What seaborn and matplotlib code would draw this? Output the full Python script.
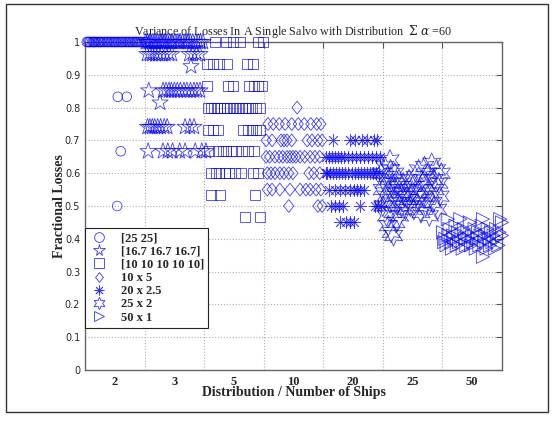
import numpy as np
import pandas as pd
import matplotlib
matplotlib.use("Agg")
import matplotlib.pyplot as plt
from matplotlib.lines import Line2D
from matplotlib.patches import Rectangle
from matplotlib.path import Path
import seaborn as sns

# ---- data -------------------------------------------------------------
group_labels = ["2", "3", "5", "10", "20", "25", "50"]
series_names = ["[25 25]", "[16.7 16.7 16.7]", "[10 10 10 10 10]",
                "10 x 5", "20 x 2.5", "25 x 2", "50 x 1"]

# rows of equal fractional loss: {loss: [x positions]}
rows_25_25 = {
    1.0: [0.03, 0.05, 0.07, 0.09, 0.12, 0.14, 0.15, 0.17, 0.19, 0.22, 0.24, 0.26,
          0.28, 0.31, 0.33, 0.36, 0.38, 0.40, 0.43, 0.45, 0.48, 0.50, 0.52, 0.55,
          0.57, 0.60, 0.62, 0.64, 0.67, 0.69, 0.72, 0.74, 0.76, 0.79, 0.81, 0.84,
          0.86, 0.88, 0.91, 0.93, 0.96, 1.00, 1.03],
    0.833: [0.55, 0.70],
    0.667: [0.60],
    0.5: [0.54],
}
rows_16_7 = {
    1.0: [1.02, 1.05, 1.08, 1.10, 1.13, 1.16, 1.19, 1.22, 1.26, 1.28, 1.30, 1.33,
          1.35, 1.38, 1.42, 1.45, 1.47, 1.51, 1.55, 1.58, 1.60, 1.64, 1.68, 1.71,
          1.73, 1.77, 1.81, 1.86, 1.90, 1.94, 1.98],
    0.963: [1.04, 1.09, 1.13, 1.18, 1.23, 1.29, 1.35, 1.41, 1.46, 1.75, 1.81, 1.87, 1.93],
    0.926: [1.78],
    0.852: [1.07, 1.31, 1.36, 1.41, 1.45, 1.50, 1.55, 1.60, 1.66, 1.71, 1.77, 1.83, 1.88, 1.93],
    0.815: [1.26],
    0.741: [1.05, 1.09, 1.13, 1.17, 1.22, 1.27, 1.33, 1.38, 1.68, 1.76, 1.83],
    0.667: [1.06, 1.31, 1.39, 1.47, 1.59, 1.68, 1.85, 1.96, 2.03],
}
rows_10x5 = {
    1.0: [2.18, 2.37, 2.48, 2.60, 2.90, 2.99],
    0.933: [2.05, 2.15, 2.25, 2.38, 2.72, 2.82],
    0.867: [2.05, 2.40, 2.48, 2.75, 2.84, 2.90, 2.97],
    0.8: [2.07, 2.12, 2.17, 2.22, 2.27, 2.33, 2.38, 2.43, 2.48, 2.53, 2.58, 2.63,
          2.68, 2.73, 2.80, 2.87, 2.94],
    0.733: [2.07, 2.15, 2.23, 2.65, 2.74, 2.80, 2.87, 2.94],
    0.667: [2.08, 2.23, 2.32, 2.37, 2.45, 2.53, 2.64, 2.74, 2.84],
    0.6: [2.12, 2.20, 2.25, 2.35, 2.42, 2.52, 2.62, 2.82, 2.90],
    0.533: [2.12, 2.27, 2.85],
    0.467: [2.69, 2.94],
}
rows_10_5 = {
    0.8: [3.56],
    0.75: [3.07, 3.16, 3.26, 3.36, 3.47, 3.58, 3.68, 3.79, 3.89, 3.96],
    0.7: [3.04, 3.14, 3.29, 3.34, 3.39, 3.47, 3.73, 3.81, 3.91, 3.98],
    0.65: [3.04, 3.10, 3.19, 3.26, 3.32, 3.39, 3.44, 3.49, 3.54, 3.61, 3.69, 3.78, 3.86, 3.94],
    0.6: [3.06, 3.12, 3.19, 3.27, 3.34, 3.42, 3.49, 3.76, 3.84, 3.94],
    0.55: [3.06, 3.14, 3.27, 3.44, 3.61, 3.71, 3.78, 3.88, 3.96],
    0.5: [3.42, 3.91, 3.98],
}
rows_20_25 = {
    0.7: [4.16, 4.45, 4.53, 4.65, 4.73, 4.85, 4.90],
    0.65: [4.04, 4.09, 4.14, 4.19, 4.24, 4.29, 4.34, 4.41, 4.48, 4.55, 4.61, 4.68,
           4.75, 4.81, 4.88, 4.95],
    0.6: [4.04, 4.07, 4.12, 4.17, 4.22, 4.27, 4.32, 4.37, 4.42, 4.48, 4.53, 4.58,
          4.63, 4.68, 4.73, 4.78, 4.83, 4.88, 4.93],
    0.55: [4.10, 4.20, 4.28, 4.36, 4.45, 4.52, 4.57, 4.62, 4.69],
    0.5: [4.13, 4.20, 4.26, 4.33, 4.62, 4.87, 4.92, 4.97],
    0.45: [4.28, 4.38, 4.45, 4.52],
}
x_25_2 = [4.97, 4.99, 5.00, 5.02, 5.03, 5.05, 5.06, 5.08, 5.09, 5.10, 5.12, 5.12, 5.13,
          5.14, 5.16, 5.17, 5.18, 5.19, 5.20, 5.22, 5.23, 5.25, 5.27, 5.28, 5.30, 5.32,
          5.34, 5.36, 5.38, 5.40, 5.42, 5.44, 5.46, 5.48, 5.50, 5.52, 5.54, 5.56, 5.58,
          5.60, 5.62, 5.64, 5.66, 5.68, 5.70, 5.72, 5.74, 5.76, 5.78, 5.80, 5.82, 5.84,
          5.86, 5.88, 5.90, 5.92, 5.94, 5.96, 5.98]
y_25_2 = [0.60, 0.55, 0.50, 0.57, 0.62, 0.53, 0.47, 0.59, 0.44, 0.55, 0.51, 0.64, 0.61,
          0.42, 0.57, 0.48, 0.41, 0.53, 0.60, 0.45, 0.56, 0.51, 0.58, 0.47, 0.54, 0.50,
          0.57, 0.53, 0.49, 0.55, 0.52, 0.58, 0.50, 0.54, 0.56, 0.49, 0.59, 0.53, 0.51,
          0.61, 0.55, 0.48, 0.58, 0.53, 0.62, 0.50, 0.56, 0.60, 0.47, 0.54, 0.63, 0.51,
          0.58, 0.55, 0.61, 0.49, 0.57, 0.53, 0.60]
x_50_1 = [6.01, 6.03, 6.05, 6.07, 6.09, 6.10, 6.12, 6.14, 6.16, 6.18, 6.20, 6.22, 6.24,
          6.26, 6.28, 6.30, 6.32, 6.34, 6.36, 6.38, 6.40, 6.42, 6.44, 6.46, 6.48, 6.50,
          6.52, 6.54, 6.56, 6.58, 6.60, 6.62, 6.64, 6.66, 6.68, 6.68, 6.70, 6.72, 6.74,
          6.76, 6.78, 6.80, 6.82, 6.84, 6.86, 6.88, 6.90, 6.92, 6.94, 6.96, 6.97, 7.00, 7.00]
y_50_1 = [0.42, 0.39, 0.40, 0.38, 0.46, 0.41, 0.43, 0.39, 0.37, 0.41, 0.40, 0.44, 0.38,
          0.42, 0.39, 0.46, 0.41, 0.37, 0.43, 0.40, 0.38, 0.42, 0.40, 0.45, 0.38, 0.41,
          0.39, 0.43, 0.37, 0.40, 0.42, 0.38, 0.41, 0.44, 0.345, 0.46, 0.39, 0.41, 0.37,
          0.43, 0.40, 0.38, 0.42, 0.39, 0.41, 0.37, 0.43, 0.40, 0.38, 0.42, 0.46, 0.45, 0.41]


def expand(rows, name):
    xs, ys = [], []
    for loss, positions in rows.items():
        xs.extend(positions)
        ys.extend([loss] * len(positions))
    return pd.DataFrame({"x": xs, "y": ys, "series": name})


df = pd.concat([
    expand(rows_25_25, series_names[0]),
    expand(rows_16_7, series_names[1]),
    expand(rows_10x5, series_names[2]),
    expand(rows_10_5, series_names[3]),
    expand(rows_20_25, series_names[4]),
    pd.DataFrame({"x": x_25_2, "y": y_25_2, "series": series_names[5]}),
    pd.DataFrame({"x": x_50_1, "y": y_50_1, "series": series_names[6]}),
], ignore_index=True)

# ---- styling ----------------------------------------------------------
sns.set_style("white")
plt.rcParams["font.family"] = ["Liberation Serif", "DejaVu Serif"]
plt.rcParams["mathtext.fontset"] = "dejavuserif"

blue = "#0000ff"
tall_diamond = Path([(0, 1), (0.8, 0), (0, -1), (-0.8, 0), (0, 1)],
                    [Path.MOVETO, Path.LINETO, Path.LINETO, Path.LINETO, Path.CLOSEPOLY])
asterisk = (8, 2, 0)
# marker and area per series (line-only markers take their colour from the face)
marker_spec = {
    series_names[0]: ("o", 48),
    series_names[1]: ("*", 150),
    series_names[2]: ("s", 52),
    series_names[3]: (tall_diamond, 85),
    series_names[4]: (asterisk, 75),
    series_names[5]: ((6, 1, 0), 230),
    series_names[6]: (">", 90),
}

fig = plt.figure(figsize=(5.53, 4.23), dpi=100)
ax = fig.add_axes([85 / 553, 53 / 423, 417 / 553, 328 / 423])

for name in series_names:
    marker, size = marker_spec[name]
    face = blue if marker == asterisk else "none"
    sns.scatterplot(data=df[df["series"] == name], x="x", y="y", ax=ax,
                    marker=marker, s=size, facecolor=face, edgecolor=blue,
                    linewidth=0.6, alpha=0.7 if marker == asterisk else 0.75,
                    legend=False, clip_on=False, zorder=3)

ax.set_xlim(0, 7)
ax.set_ylim(0, 1)
ax.set_xticks(np.arange(1, 7))
ax.set_xticklabels([])
ax.set_xticks(np.arange(7) + 0.5, minor=True)
ax.set_xticklabels(group_labels, minor=True, fontweight="bold", fontsize=9)
ax.tick_params(axis="x", which="minor", length=0, pad=4)
ax.tick_params(axis="x", which="major", direction="in", length=4, top=True,
               color="#555555", width=0.8)
ax.set_yticks(np.arange(0, 1.01, 0.1))
ax.set_yticklabels(["0"] + [f"{v:.1f}" for v in np.arange(0.1, 0.95, 0.1)] + ["1"],
                   fontfamily="DejaVu Sans", fontsize=7)
ax.tick_params(axis="y", direction="in", length=4, right=True, color="#555555", width=0.8)
ax.grid(True, which="major", linestyle=":", color="#b0b0b0", linewidth=0.8)
for sp in ax.spines.values():
    sp.set_color("#666666")
    sp.set_linewidth(1.0)

ax.set_xlabel("Distribution / Number of Ships", fontweight="bold", fontsize=10, labelpad=-1)
ax.set_ylabel("Fractional Losses", fontweight="bold", fontsize=10, labelpad=-1)
ax.set_title(r"Variance of Losses In A Single Salvo with Distribution  $\Sigma$ $\alpha$ =60",
             fontsize=8.7, pad=5)

handles = [Line2D([], [], marker=marker_spec[n][0], linestyle="none",
                  markersize={series_names[1]: 8.5, series_names[5]: 9}.get(n, 7),
                  markerfacecolor=blue if marker_spec[n][0] == asterisk else "none",
                  markeredgecolor=blue, markeredgewidth=0.6, alpha=0.8)
           for n in series_names]
leg = ax.legend(handles, series_names, loc="lower left", bbox_to_anchor=(0, 0.128),
                borderaxespad=0, frameon=True, fancybox=False, framealpha=1,
                prop={"weight": "bold", "size": 9}, handlelength=1.5,
                handletextpad=1.0, labelspacing=0.1, borderpad=0.35)
leg.get_frame().set_edgecolor("#222222")
leg.get_frame().set_linewidth(0.8)
leg.set_zorder(5)

fig.patches.append(Rectangle((6 / 553, 11 / 423), 542 / 553, 408 / 423,
                             transform=fig.transFigure, fill=False,
                             edgecolor="#333333", linewidth=1.0))

fig.savefig("out.png", dpi=100)
